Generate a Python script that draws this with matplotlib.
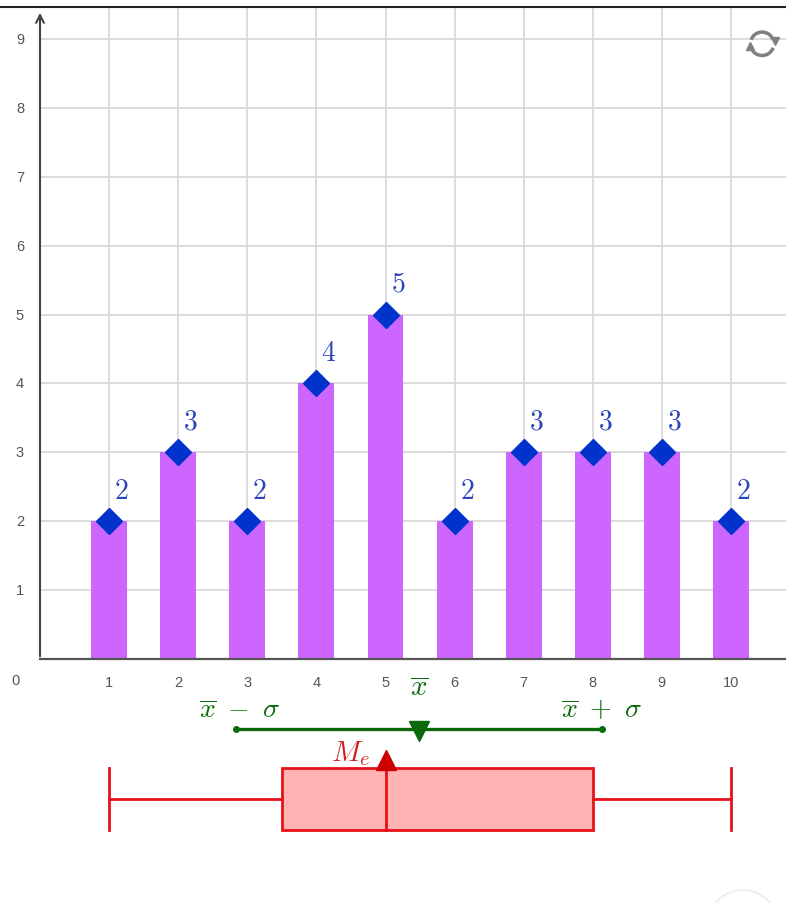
import numpy as np
import matplotlib.pyplot as plt
from matplotlib.patches import Rectangle, Arc, Circle

plt.rcParams['mathtext.fontset'] = 'cm'

# data
x_vals = [1, 2, 3, 4, 5, 6, 7, 8, 9, 10]
freqs = [2, 3, 2, 4, 5, 2, 3, 3, 3, 2]
y_ticks = [1, 2, 3, 4, 5, 6, 7, 8, 9]
box_stats = [1, 3.5, 5, 8, 10]  # min, Q1, median, Q3, max

x_arr = np.array(x_vals)
f_arr = np.array(freqs)
mean = (x_arr * f_arr).sum() / f_arr.sum()
sigma = np.sqrt((f_arr * (x_arr - mean) ** 2).sum() / f_arr.sum())

bar_color = '#cc66ff'
dot_color = '#0033cc'
label_color = '#2b45b8'
green = '#0a6a0a'
red = '#e8111a'
tick_color = '#555555'

fig = plt.figure(figsize=(7.86, 9.04), dpi=100)
ax = fig.add_axes([0, 0, 1, 1])
ax.set_xlim(-0.579, 10.796)
ax.set_ylim(-3.54, 9.58)
ax.axis('off')

# grid (first quadrant only)
x_max, y_top = 10.796, 9.46
for gx in range(1, 11):
    ax.plot([gx, gx], [0, y_top], color='#d6d6d6', lw=1.2, zorder=0)
for gy in y_ticks:
    ax.plot([0, x_max], [gy, gy], color='#d6d6d6', lw=1.2, zorder=0)

# frame line at top
ax.plot([-0.6, x_max], [y_top, y_top], color='#222222', lw=1.5, zorder=1)

# axes
ax.plot([0, x_max], [0, 0], color='#555555', lw=1.6, zorder=3)
ax.annotate('', xy=(0, 9.42), xytext=(0, 0),
            arrowprops=dict(arrowstyle='->', color='#444444', lw=1.5,
                            mutation_scale=14), zorder=3)

for xv in x_vals:
    ax.text(xv, -0.33, str(xv), ha='center', va='center', fontsize=10.5,
            color=tick_color, family='Liberation Sans')
for yv in y_ticks:
    ax.text(-0.29, yv, str(yv), ha='center', va='center', fontsize=10.5,
            color=tick_color, family='Liberation Sans')
ax.text(-0.36, -0.3, '0', ha='center', va='center', fontsize=10.5,
        color=tick_color, family='Liberation Sans')

# bars and points
ax.bar(x_vals, freqs, width=0.52, color=bar_color, zorder=2)
ax.plot(x_vals, freqs, 'D', color=dot_color, ms=13.5, zorder=4)
for xv, fv in zip(x_vals, freqs):
    ax.text(xv + 0.18, fv + 0.46, f'${fv}$', ha='center', va='center',
            fontsize=20, color=label_color, zorder=5)

# mean and sigma
y_mean = -1.02
ax.plot([mean - sigma, mean + sigma], [y_mean, y_mean], color=green, lw=2.4,
        zorder=3)
ax.plot([mean - sigma, mean + sigma], [y_mean, y_mean], 'o', color=green,
        ms=4, zorder=3)
ax.plot([mean], [y_mean - 0.02], 'v', color=green, ms=15, zorder=4)
ax.text(mean, -0.41, r'$\overline{x}$', ha='center', va='center',
        fontsize=21, color=green)
ax.text(mean - sigma + 0.05, -0.73, r'$\overline{x}\ -\ \sigma$',
        ha='center', va='center', fontsize=20, color=green)
ax.text(mean + sigma, -0.73, r'$\overline{x}\ +\ \sigma$', ha='center',
        va='center', fontsize=20, color=green)

# box plot
b_min, q1, med, q3, b_max = box_stats
yc, hh = -2.03, 0.45
ax.add_patch(Rectangle((q1, yc - hh), q3 - q1, 2 * hh, facecolor='#ffb3b3',
                       edgecolor=red, lw=2, zorder=3))
ax.plot([b_min, q1], [yc, yc], color=red, lw=2, zorder=3)
ax.plot([q3, b_max], [yc, yc], color=red, lw=2, zorder=3)
ax.plot([b_min, b_min], [yc - hh, yc + hh], color=red, lw=2, zorder=3)
ax.plot([b_max, b_max], [yc - hh, yc + hh], color=red, lw=2, zorder=3)
ax.plot([med, med], [yc - hh, yc + hh], color=red, lw=2, zorder=3)
ax.plot([med], [yc + hh + 0.12], '^', color='#cc0000', ms=15, zorder=4)
ax.text(med - 0.5, yc + hh + 0.22, r'$M_e$', ha='center', va='center',
        fontsize=21, color='#cc2222')

# refresh icon in the corner
cx, cy, r = 10.45, 8.93, 0.17
icon = '#808080'
ax.add_patch(Arc((cx, cy), 2 * r, 2 * r, theta1=20, theta2=160,
                 color=icon, lw=2.5))
ax.add_patch(Arc((cx, cy), 2 * r, 2 * r, theta1=200, theta2=340,
                 color=icon, lw=2.5))
ax.plot([cx + r * np.cos(np.radians(20)) + 0.02],
        [cy + r * np.sin(np.radians(20)) - 0.02], 'v', color=icon, ms=6)
ax.plot([cx - r * np.cos(np.radians(20)) - 0.02],
        [cy - r * np.sin(np.radians(20)) + 0.02], '^', color=icon, ms=6)

# faint round button bottom right
ax.add_patch(Circle((10.17, -3.85), 0.5, facecolor='white',
                    edgecolor='#eeeeee', lw=1.5))

fig.savefig('out.png', dpi=100)
